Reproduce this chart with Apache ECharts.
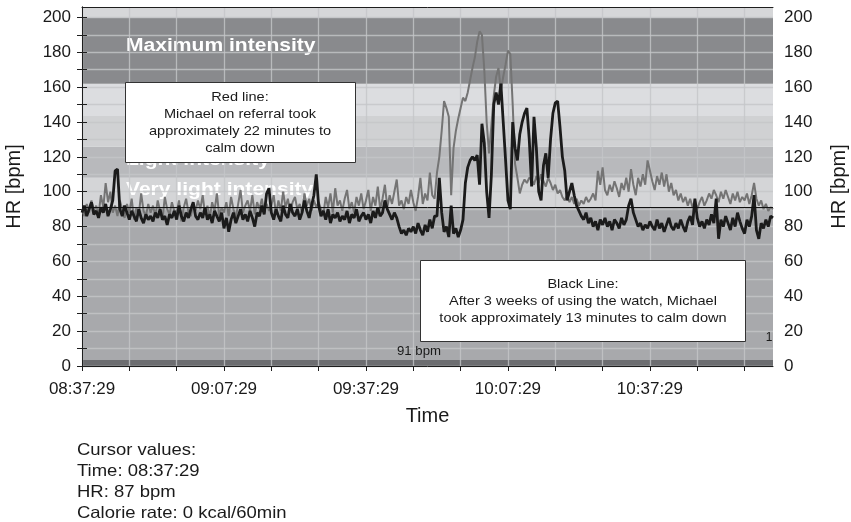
<!DOCTYPE html>
<html><head><meta charset="utf-8">
<script src="https://cdn.jsdelivr.net/npm/echarts@6/dist/echarts.min.js"></script>
<style>html,body{margin:0;padding:0;background:#fff}#c{width:851px;height:522px}</style>
</head><body><div id="c"></div>
<script>
// ---------- data ----------
const startClock = '08:37:29';
const sampleStepMin = 0.5;           // one HR sample every 30 s
const xMaxMin = 146;
const xTickMinutes = [0,10,20,30,40,50,60,70,80,90,100,110,120,130,140];
const xLabelMinutes = [0,30,60,90,120];
const yTickValues = [0,10,20,30,40,50,60,70,80,90,100,110,120,130,140,150,160,170,180,190,200];
const yLabelValues = [0,20,40,60,80,100,120,140,160,180,200];
const yMax = 206;
const restingHR = 91;
const zoneBounds = [[0,3.5],[3.5,91],[91,108],[108,126],[126,143.5],[143.5,162],[162,200],[200,206]];
const zoneNames = ['Maximum intensity','Light intensity','Very light intensity'];

// Black line: after 3 weeks of using the watch
const blackHR = [
 88,92,86,90,94,87,89,85,91,88,
 93,86,90,95,112,113,90,86,92,88,
 84,89,86,83,90,85,82,87,84,86,
 83,88,85,90,84,86,81,87,85,89,
 84,92,86,83,88,85,90,94,86,84,
 88,85,91,84,87,82,89,86,83,88,
 79,85,77,84,88,82,86,90,84,87,
 83,89,85,80,88,86,92,87,99,102,
 88,84,90,86,83,92,87,85,93,88,
 86,90,84,88,95,89,85,92,98,110,
 92,86,89,84,90,82,87,85,88,83,
 86,84,89,82,87,85,90,83,86,88,
 84,87,82,89,85,91,86,88,95,90,
 87,84,88,85,80,76,78,75,79,77,
 80,76,82,78,75,81,77,84,79,86,
 86,108,88,77,80,74,92,76,79,74,
 78,84,105,114,118,120,118,121,104,139,
 128,100,85,110,150,157,150,162,140,118,
 95,90,140,125,118,133,140,145,148,130,
 103,143,125,100,95,115,122,108,130,145,
 151,152,137,120,112,95,100,105,98,92,
 89,86,84,88,82,85,80,83,78,84,
 81,85,80,83,78,84,82,79,85,81,
 84,92,96,88,84,80,82,78,81,79,
 83,80,78,84,79,82,77,81,85,80,
 78,82,79,84,80,77,83,86,81,96,
 85,80,83,79,84,81,87,82,96,73,
 84,80,86,82,78,85,80,88,83,79,
 76,84,80,86,98,78,73,82,79,84,
 80,86,85
];
// Grey ("red") line: on referral
const greyHR = [
 90,86,93,88,95,89,92,87,98,91,
 105,94,100,88,92,86,95,90,85,93,
 88,96,84,91,87,99,89,86,93,88,
 92,86,95,89,84,97,90,87,94,89,
 88,95,83,91,96,88,86,93,89,95,
 90,98,87,92,85,94,89,99,86,91,
 88,94,86,97,90,85,93,101,88,92,
 95,89,98,87,94,90,96,88,93,89,
 92,98,87,95,89,100,91,96,88,94,
 97,90,93,88,99,92,96,89,95,91,
 94,90,87,97,91,99,88,102,92,95,
 89,96,101,90,94,88,97,92,99,90,
 95,101,89,97,92,103,90,96,104,91,
 98,93,100,107,92,95,90,97,93,101,
 94,89,97,108,93,99,95,111,98,96,
 111,120,135,152,148,143,98,125,135,142,
 148,154,152,157,164,171,177,186,192,190,
 170,140,122,138,155,166,171,158,166,173,
 181,179,150,116,108,99,104,107,105,108,
 107,104,109,105,110,106,103,108,105,101,
 104,99,101,97,95,98,94,97,93,96,
 92,95,93,97,94,96,99,95,112,104,
 114,101,98,104,100,106,102,97,105,101,
 108,100,113,104,98,108,103,110,104,118,
 112,106,101,109,104,111,103,110,100,105,
 98,101,95,99,94,97,92,96,91,95,
 90,94,97,92,95,99,96,101,98,94,
 100,96,101,97,93,99,95,100,94,97,
 95,99,93,98,105,96,92,95,90,93,
 89,91,90
];
const boxRedText = ['Red line:','Michael on referral took','approximately 22 minutes to','calm down'];
const boxBlackText = ['Black Line:','After 3 weeks of using the watch, Michael','took approximately 13 minutes to calm down'];
const cursorText = ['Cursor values:','Time: 08:37:29','HR: 87 bpm','Calorie rate: 0 kcal/60min'];

// ---------- chart ----------
const FONT = '"Liberation Sans", Arial, sans-serif';
const zoneColors = ['#6c6d70','#a8a9ac','#d4d5d7','#b8b9bc','#d0d1d3','#dcdde0','#898a8d','#d6d7d9'];

function clock(min) {
  const p = startClock.split(':').map(Number);
  let s = p[0]*3600 + p[1]*60 + p[2] + Math.round(min*60);
  const h = Math.floor(s/3600), m = Math.floor((s%3600)/60), sec = s%60;
  const z = n => (n<10?'0':'') + n;
  return z(h)+':'+z(m)+':'+z(sec);
}
const toPairs = arr => arr.map((v,i)=>[i*sampleStepMin, v]);

const areas = zoneBounds.map((b,i)=>[
  {yAxis:b[0], itemStyle:{color:zoneColors[i], opacity:1}},
  {yAxis:b[1]}
]);

const gridLine = {show:true, lineStyle:{color:'rgba(196,197,200,0.8)', width:1.3}};
const axisCol = '#1e1e1e';

function textEl(str, x, y, size, opts) {
  opts = opts || {};
  return {
    type:'text', x:x, y:y, z: opts.z != null ? opts.z : 20, scaleX: opts.sx || 1,
    style:{text:str, fill: opts.color || '#1a1a1a', font: (opts.bold?'bold ':'') + size + 'px ' + FONT,
      textAlign: opts.align || 'center', textVerticalAlign:'middle'}
  };
}

const graphics = [];
// zone labels (under the lines)
graphics.push(textEl(zoneNames[0], 126, 46, 18, {bold:true, color:'#ffffff', align:'left', sx:1.17, z:1.2}));
graphics.push(textEl(zoneNames[1], 126, 160, 18, {bold:true, color:'#ffffff', align:'left', sx:1.17, z:1.2}));
graphics.push(textEl(zoneNames[2], 126, 190, 18, {bold:true, color:'#ffffff', align:'left', sx:1.17, z:1.2}));
// annotation boxes
graphics.push({type:'rect', z:20, shape:{x:125.5, y:82.5, width:230, height:80},
  style:{fill:'#ffffff', stroke:'#333333', lineWidth:1}});
boxRedText.forEach((t,i)=>graphics.push(textEl(t, 240, 97 + i*17, 13, {sx:1.12, z:21})));
graphics.push({type:'rect', z:20, shape:{x:420.5, y:260.5, width:325, height:81},
  style:{fill:'#ffffff', stroke:'#333333', lineWidth:1}});
boxBlackText.forEach((t,i)=>graphics.push(textEl(t, 583, 284 + i*17, 13, {sx:1.12, z:21})));
// small labels in plot
graphics.push(textEl(restingHR + ' bpm', 419, 352, 12, {sx:1.1, z:21}));
graphics.push(textEl('1', 769, 338, 12, {z:21}));
// cursor values
cursorText.forEach((t,i)=>graphics.push(textEl(t, 77, 450 + i*21, 16.5, {align:'left', sx:1.12, z:21})));

const yAxisBase = {
  type:'value', min:0, max:yMax, interval:20, z:1.5,
  axisLine:{show:true, lineStyle:{color:axisCol, width:1}},
  axisTick:{show:true, customValues:yTickValues, length:5, lineStyle:{color:axisCol}},
  axisLabel:{customValues:yLabelValues, color:'#1a1a1a', fontSize:17, fontFamily:FONT, margin:11},
  name:'HR [bpm]', nameLocation:'middle', nameRotate:90,
  nameTextStyle:{fontSize:20, fontFamily:FONT, color:'#1a1a1a'}
};

const option = {
  animation:false,
  backgroundColor:'#ffffff',
  grid:{left:82, right:78, top:7, bottom:156, containLabel:false, outerBoundsMode:'none'},
  xAxis:[{
    type:'value', min:0, max:xMaxMin, interval:10, z:1.5, position:'bottom',
    axisLine:{show:true, onZero:false, lineStyle:{color:axisCol, width:1}},
    axisTick:{show:true, customValues:xTickMinutes, length:5, lineStyle:{color:axisCol}},
    axisLabel:{customValues:xLabelMinutes, formatter:v=>clock(v), color:'#1a1a1a', fontSize:17, fontFamily:FONT, margin:15},
    splitLine:gridLine,
    name:'Time', nameLocation:'middle', nameGap:40,
    nameTextStyle:{fontSize:20, fontFamily:FONT, color:'#1a1a1a'}
  },{
    type:'value', min:0, max:xMaxMin, position:'top', z:1.5,
    axisLine:{show:true, onZero:false, lineStyle:{color:axisCol, width:1}},
    axisTick:{show:false}, axisLabel:{show:false}, splitLine:{show:false}
  }],
  yAxis:[
    Object.assign({}, yAxisBase, {position:'left', nameGap:58, splitLine:gridLine}),
    Object.assign({}, yAxisBase, {position:'right', nameGap:56, splitLine:{show:false}})
  ],
  series:[
    {
      name:'Referral', type:'line', data:toPairs(greyHR), showSymbol:false, z:2,
      lineStyle:{color:'#747474', width:2}, silent:true,
      markArea:{silent:true, z:1, data:areas, label:{show:false}}
    },
    {
      name:'After 3 weeks', type:'line', data:toPairs(blackHR), showSymbol:false, z:3,
      lineStyle:{color:'#1b1b1b', width:2.8}, silent:true,
      markLine:{silent:true, symbol:'none', label:{show:false},
        lineStyle:{color:'#111111', width:1, type:'solid'}, data:[{yAxis:restingHR}]}
    }
  ],
  graphic:graphics
};
echarts.init(document.getElementById('c'), null, {renderer:'canvas'}).setOption(option);
</script></body></html>
